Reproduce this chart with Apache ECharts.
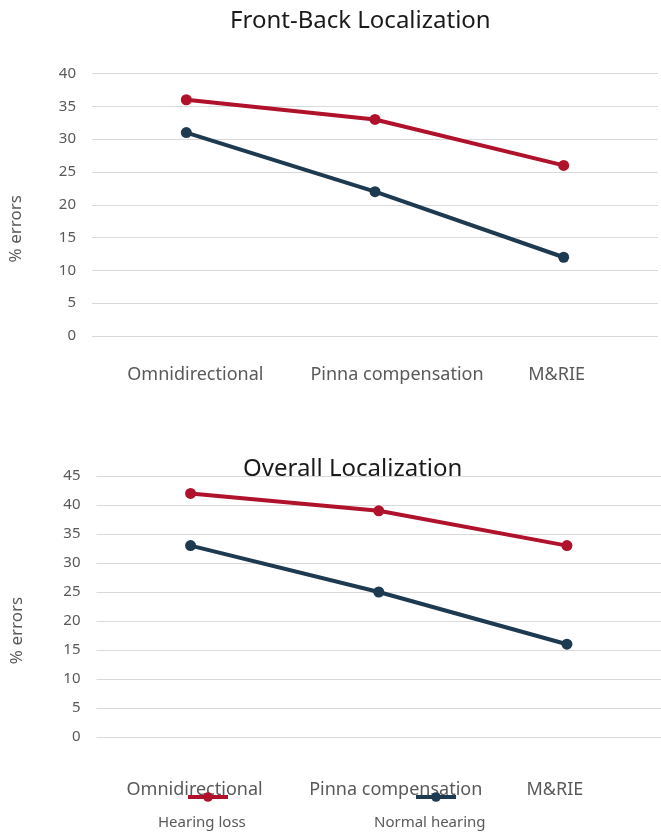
<!DOCTYPE html>
<html>
<head>
<meta charset="utf-8">
<script src="https://cdn.jsdelivr.net/npm/echarts@6/dist/echarts.min.js"></script>
<style>
html,body{margin:0;padding:0;background:#fff;}
#c{width:661px;height:833px;}
</style>
</head>
<body>
<div id="c"></div>
<script>
const categories = ['Omnidirectional', 'Pinna compensation', 'M&RIE'];
const seriesNames = ['Hearing loss', 'Normal hearing'];
const frontBackHearingLoss = [36, 33, 26];
const frontBackNormal = [31, 22, 12];
const overallHearingLoss = [42, 39, 33];
const overallNormal = [33, 25, 16];
const yTicksTop = { min: 0, max: 40, interval: 5 };
const yTicksBottom = { min: 0, max: 45, interval: 5 };
const titles = ['Front-Back Localization', 'Overall Localization'];
const yName = '% errors';

const RED = '#B0122C';
const NAVY = '#1D3A50';
const FONT = 'Noto Sans';
const GRAY = '#595959';

function catAxis(gridIndex, margin, pads) {
  const rich = {};
  pads.forEach((p, i) => { rich['c' + i] = { fontSize: 18, color: GRAY, fontFamily: FONT, padding: p }; });
  return {
    type: 'category', gridIndex, data: categories, boundaryGap: true,
    axisLine: { show: false }, axisTick: { show: false },
    axisLabel: {
      margin, interval: 0,
      formatter: (v, i) => '{c' + i + '|' + v + '}',
      rich
    }
  };
}
function valAxis(gridIndex, t, nameGap) {
  return {
    type: 'value', gridIndex, min: t.min, max: t.max, interval: t.interval,
    name: yName, nameLocation: 'middle', nameGap,
    nameTextStyle: { fontSize: 17, color: GRAY, fontFamily: FONT, padding: [0, 48, 0, 0] },
    axisLine: { show: false }, axisTick: { show: false },
    axisLabel: { fontSize: 15, color: GRAY, fontFamily: FONT, margin: 16 },
    splitLine: { lineStyle: { color: '#d9d9d9', width: 1.2 } }
  };
}
function lineSeries(name, data, color, idx) {
  return {
    type: 'line', name, data, xAxisIndex: idx, yAxisIndex: idx,
    symbol: 'circle', symbolSize: 11, color,
    lineStyle: { width: 4, color }, itemStyle: { color },
    emphasis: { disabled: true }
  };
}
function iconLegend(name, left) {
  return {
    data: [name], left, top: 791, itemWidth: 40, itemHeight: 12,
    lineStyle: { width: 4 },
    formatter: () => '', itemGap: 0, padding: 0
  };
}
function textLegend(name, left) {
  return {
    data: [name], left, top: 815, itemWidth: 0, itemHeight: 0, padding: 0,
    itemStyle: { opacity: 0 }, lineStyle: { opacity: 0 },
    textStyle: { fontSize: 15, color: GRAY, fontFamily: FONT, padding: 0 }
  };
}

const chart = echarts.init(document.getElementById('c'), null, { renderer: 'canvas' });
chart.setOption({
  backgroundColor: '#fff',
  animation: false,
  textStyle: { fontFamily: FONT },
  title: [
    { text: titles[0], left: 230, top: 9, padding: 0,
      textStyle: { fontSize: 24, fontWeight: 'normal', color: '#1a1a1a', fontFamily: FONT } },
    { text: titles[1], left: 243, top: 457, padding: 0,
      textStyle: { fontSize: 24, fontWeight: 'normal', color: '#1a1a1a', fontFamily: FONT } }
  ],
  grid: [
    { left: 92, right: 3, top: 73.5, height: 262.5, containLabel: false },
    { left: 96.5, right: -2.5, top: 476, height: 261, containLabel: false }
  ],
  xAxis: [
    catAxis(0, 30, [[0, 0, 0, 18], [0, 0, 0, 44], [0, 14, 0, 0]]),
    catAxis(1, 44, [[0, 0, 0, 8], [0, 0, 0, 34], [0, 24, 0, 0]])
  ],
  yAxis: [valAxis(0, yTicksTop, 67), valAxis(1, yTicksBottom, 71)],
  legend: [
    iconLegend(seriesNames[0], 186), iconLegend(seriesNames[1], 414),
    textLegend(seriesNames[0], 152), textLegend(seriesNames[1], 368)
  ],
  series: [
    lineSeries(seriesNames[0], frontBackHearingLoss, RED, 0),
    lineSeries(seriesNames[1], frontBackNormal, NAVY, 0),
    lineSeries(seriesNames[0], overallHearingLoss, RED, 1),
    lineSeries(seriesNames[1], overallNormal, NAVY, 1)
  ]
});
</script>
</body>
</html>
